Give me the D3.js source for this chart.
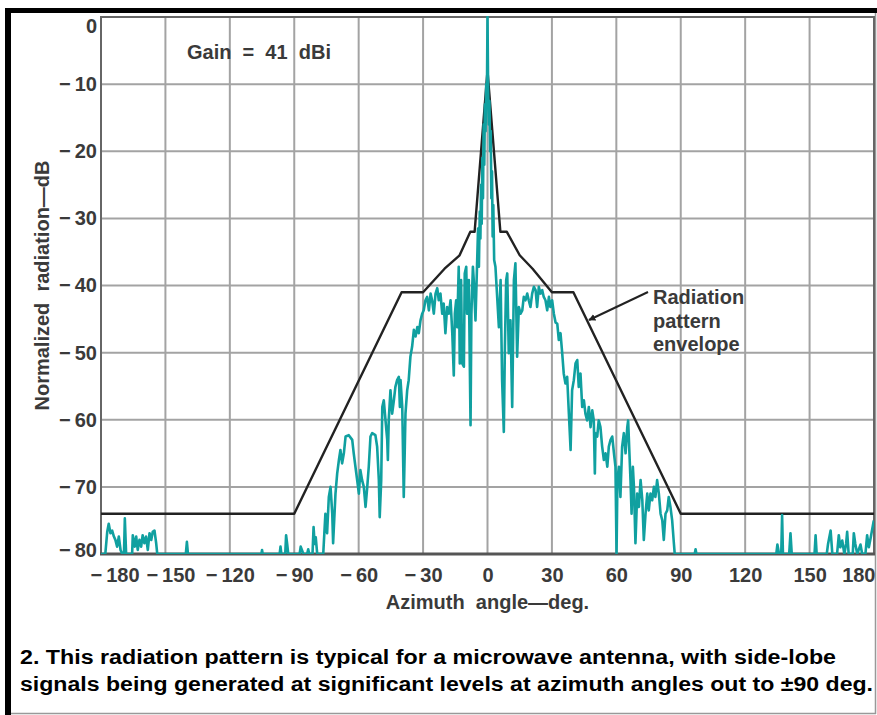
<!DOCTYPE html>
<html>
<head>
<meta charset="utf-8">
<script src="https://cdn.jsdelivr.net/npm/d3@7"></script>
<style>
  body { margin: 0; background: #fff; }
  svg { display: block; font-family: "Liberation Sans", Arial, sans-serif; }
</style>
</head>
<body>
<div class="canvas"></div>
<script>
// axis ticks
const angleTicks = [-180, -150, -120, -90, -60, -30, 0, 30, 60, 90, 120, 150, 180];
const levelTicks = [0, -10, -20, -30, -40, -50, -60, -70, -80];

// envelope (deg, dB)
const envAngles = [-180, -90, -40, -30, -20, -13, -8, -6, 0, 6, 9, 15, 21, 30, 40, 90, 180];
const envLevels = [-74, -74, -41, -41, -37.5, -35.5, -32, -32, -8, -32, -32, -35.5, -37.5, -41, -41, -74, -74];

const measured = [
    [-180, -80], [-178, -80], [-177.1, -76.7], [-176.4, -75.5], [-175.6, -76.9], [-174.8, -76.5],
    [-174, -77.4], [-173.3, -77.9], [-172.5, -78.9], [-171.7, -77.4], [-170.9, -79.4], [-170.1, -80],
    [-169.3, -80], [-168.9, -74.7], [-168.3, -80], [-165.5, -80], [-165.2, -77.2], [-164.3, -78.9],
    [-163.6, -77.4], [-162.9, -79.4], [-162.1, -77.9], [-161.3, -78.9], [-160.6, -77.2], [-159.8, -78.4],
    [-159, -77.4], [-158.2, -79.4], [-157.4, -76.9], [-156.6, -77.9], [-155.9, -76.7], [-155.1, -76.5],
    [-154.3, -78.4], [-153.8, -80], [-140.5, -80], [-140, -78.2], [-139.5, -80], [-105.3, -80],
    [-105, -79.4], [-104.7, -80], [-96.8, -80], [-96.4, -78.9], [-96, -80], [-94.2, -80],
    [-93.8, -77.2], [-93.3, -78.5], [-92.8, -80], [-87.5, -80], [-87, -78.9], [-86.3, -79.5],
    [-85.8, -80], [-84, -80], [-83.5, -79.3], [-83, -80], [-81.5, -80], [-81, -76],
    [-80.5, -78.5], [-80, -77.5], [-79.3, -80], [-76.5, -80], [-75.5, -74], [-74.7, -76.9],
    [-73.9, -71.5], [-73.1, -70], [-72.3, -74], [-71.9, -78.4], [-70.8, -71], [-70, -68],
    [-69.2, -66], [-68.5, -64.5], [-67.7, -66.5], [-66.9, -65], [-66.1, -62.5], [-64.6, -62.3],
    [-63, -63], [-62.3, -65], [-61.5, -67], [-60.7, -69], [-59.9, -71], [-59.2, -67.5],
    [-58.4, -69], [-57.6, -70], [-56.8, -73], [-56, -70], [-55.3, -67], [-54.5, -62.5],
    [-53.7, -62], [-52.2, -62.3], [-51.4, -64], [-50.6, -69], [-50.2, -74.5], [-49.5, -69],
    [-49, -58.1], [-48.3, -57.1], [-47.5, -60.1], [-46.7, -63], [-46.4, -66], [-46, -60.1],
    [-45.2, -55.6], [-44.4, -59.1], [-43.6, -57.1], [-42.9, -55.1], [-42.1, -54.1], [-41.3, -53.6],
    [-40.8, -58.1], [-40.5, -54.1], [-39.7, -58.1], [-39, -71.5], [-38.5, -64], [-38.2, -59.1],
    [-37.4, -55.6], [-36.7, -54.1], [-35.9, -50.6], [-35.1, -49.1], [-34.3, -46.6], [-33.5, -47.6],
    [-32.7, -46.2], [-32, -47.1], [-31.2, -45.2], [-30.4, -44.2], [-29.7, -43.7], [-28.9, -42.2],
    [-28.1, -41.7], [-27.3, -43.7], [-26.5, -41.2], [-25.8, -42.2], [-25, -44.2], [-24.2, -41.2],
    [-23.4, -40.4], [-22.7, -42.2], [-21.9, -41.2], [-21.1, -44.2], [-20.4, -42.7], [-19.6, -47.1],
    [-18.8, -43.2], [-18, -44.2], [-17.2, -42.2], [-16.4, -47.1], [-15.7, -53.4], [-15.2, -44.2],
    [-14.6, -42.2], [-14.1, -46.2], [-13.4, -37.2], [-12.9, -51.6], [-12.3, -39.2], [-11.8, -51.6],
    [-11, -52.1], [-10.6, -38.2], [-9.9, -37.2], [-9.5, -44.2], [-8.7, -39.2], [-7.9, -60.8],
    [-7.5, -44.2], [-6.8, -37.2], [-6.4, -39.2], [-5.6, -45.2], [-4.8, -36.2], [-4.4, -31.5],
    [-4, -37.2], [-3.6, -29], [-3.3, -33], [-3, -25], [-2.7, -30.8], [-2.4, -21],
    [-2.1, -27], [-1.8, -16], [-1.5, -22], [-1.2, -13], [-0.9, -17], [-0.6, -10],
    [-0.3, -13], [0, 0], [0.3, -11], [0.6, -16], [0.9, -12.5], [1.2, -20],
    [1.5, -17], [1.8, -27], [2.1, -23], [2.4, -32.7], [2.7, -28], [3.1, -36.2],
    [3.7, -37.2], [4.5, -41.7], [5.3, -46.2], [6.1, -39.2], [6.8, -54.1],
    [7.6, -61.8], [8.1, -49.1], [8.7, -39.2], [9.2, -38.2], [9.9, -50.1], [10.7, -45.2],
    [11.5, -58.1], [12.3, -39.2], [13, -36.7], [13.8, -50.6], [14.6, -43.2], [15.4, -44.2],
    [16.2, -43.7], [16.9, -41.7], [17.7, -42.2], [18.5, -41.2], [19.2, -42.2], [20, -43.2],
    [20.8, -41.2], [21.6, -40.2], [22.4, -40.7], [23.1, -43.2], [23.9, -40.2], [24.7, -41.2],
    [25.5, -40.7], [26.2, -41.7], [27, -42.2], [27.8, -43.7], [28.6, -41.7], [29.3, -43.2],
    [30.1, -42.2], [30.9, -44.2], [31.7, -45.5], [32.5, -45.7], [33.2, -48.1], [34, -47.1],
    [34.8, -50.1], [35.5, -53.1], [36.3, -54.6], [37.1, -53.6], [37.9, -59.1], [38.7, -64.5],
    [39.4, -55.6], [40.2, -54.1], [41, -51.6], [41.8, -51.1], [42.5, -55.1], [43.3, -53.1],
    [44.1, -58.1], [44.9, -57.1], [45.6, -59.1], [46.4, -60.1], [47.2, -58.1], [48, -61.1],
    [48.8, -58.6], [49.5, -60.1], [50, -68], [50.3, -62], [51.1, -62.5], [51.8, -60.1],
    [52.6, -61.1], [53.4, -64], [54.2, -66], [55, -65], [55.8, -67], [56.5, -64],
    [57.3, -63], [58.1, -62.5], [58.9, -65], [59.6, -67], [60.1, -80], [60.5, -69],
    [61.2, -67], [61.9, -71.5], [62.7, -64], [63.5, -62], [64.3, -65], [65.1, -61.1],
    [65.5, -60.1], [66.1, -65], [66.6, -69], [67.1, -74], [67.7, -67], [68.2, -70],
    [68.9, -78.4], [69.7, -71], [70.5, -73], [71.3, -69], [72.1, -72], [72.8, -77.9],
    [73.6, -74], [74.4, -71], [75.1, -73.5], [75.9, -71], [76.7, -72], [77.5, -70],
    [78.2, -71.5], [79, -69], [79.8, -71], [80.6, -74], [81.4, -75], [82.1, -77.9],
    [82.9, -74], [83.7, -73.5], [84.4, -71.5], [85.2, -73], [86, -75], [86.8, -78.4],
    [87.2, -80], [96.5, -80], [96.9, -79.3], [97.3, -80], [134.5, -80], [135, -78.6],
    [135.8, -80], [136.8, -80], [137.2, -74.2], [137.6, -80], [140.5, -80], [141.1, -76.9],
    [141.7, -80], [152.3, -80], [152.8, -77.2], [153.3, -80], [158, -80], [158.6, -78.5],
    [159.8, -76.5], [160.6, -80], [162.8, -80], [163.6, -77.2], [164.3, -79], [165.2, -78],
    [166.2, -80], [167, -78.5], [167.5, -76.7], [168.2, -80], [170.1, -80], [170.6, -76.9],
    [171.3, -78.5], [172.2, -80], [173.7, -78.6], [174.5, -80], [176, -80], [176.8, -77.2],
    [177.6, -79], [178.5, -77.5], [179.9, -75]
];

const annotationLines = ['Radiation', 'pattern', 'envelope'];
const captionLines = [
    '2. This radiation pattern is typical for a microwave antenna, with side-lobe',
    'signals being generated at significant levels at azimuth angles out to \u00b190 deg.'
];

const dimensions = { width: 877, height: 715 };
const plot = { left: 101, right: 874, top: 17, bottom: 554 };

const svg = d3.select('.canvas')
    .append('svg')
    .attr('width', dimensions.width)
    .attr('height', dimensions.height);

const x = d3.scaleLinear().domain([-180, 180]).range([plot.left, plot.right]);
const y = d3.scaleLinear().domain([0, -80]).range([plot.top, plot.bottom]);

const minus = v => v < 0 ? '\u2212\u2009' + Math.abs(v) : String(v);

// outer frame
svg.append('rect').attr('x', 5).attr('y', 8).attr('width', 6).attr('height', 707).attr('fill', '#000');
svg.append('rect').attr('x', 5).attr('y', 8).attr('width', 872).attr('height', 5).attr('fill', '#000');
svg.append('line').attr('x1', 875.5).attr('x2', 875.5).attr('y1', 13).attr('y2', 714)
    .attr('stroke', '#999').attr('stroke-width', 1.5);
svg.append('line').attr('x1', 11).attr('x2', 876).attr('y1', 713.5).attr('y2', 713.5)
    .attr('stroke', '#999').attr('stroke-width', 1.5);

// grid
const grid = svg.append('g');
grid.selectAll('.vgrid')
    .data(angleTicks)
    .enter().append('line')
    .attr('x1', d => x(d)).attr('x2', d => x(d))
    .attr('y1', plot.top).attr('y2', plot.bottom)
    .attr('stroke', '#a3a3a3').attr('stroke-width', 2);
grid.selectAll('.hgrid')
    .data(levelTicks)
    .enter().append('line')
    .attr('x1', plot.left).attr('x2', plot.right)
    .attr('y1', d => y(d)).attr('y2', d => y(d))
    .attr('stroke', '#a3a3a3').attr('stroke-width', 2);

// plot border
svg.append('rect')
    .attr('x', plot.left).attr('y', plot.top)
    .attr('width', plot.right - plot.left).attr('height', plot.bottom - plot.top)
    .attr('fill', 'none').attr('stroke', '#666').attr('stroke-width', 2);
svg.append('line')
    .attr('x1', plot.left - 1).attr('x2', plot.right + 1)
    .attr('y1', plot.bottom).attr('y2', plot.bottom)
    .attr('stroke', '#555').attr('stroke-width', 3);

// axes
const xAxis = svg.append('g')
    .attr('transform', `translate(0, ${plot.bottom})`)
    .call(d3.axisBottom(x).tickValues(angleTicks).tickSize(0).tickPadding(14).tickFormat(minus));
const yAxis = svg.append('g')
    .attr('transform', `translate(${plot.left}, 0)`)
    .call(d3.axisLeft(y).tickValues(levelTicks).tickSize(0).tickPadding(4).tickFormat(minus));
[xAxis, yAxis].forEach(a => {
    a.select('.domain').remove();
    a.selectAll('text')
        .attr('font-family', '"Liberation Sans", Arial, sans-serif')
        .attr('font-size', 20)
        .attr('font-weight', 'bold')
        .attr('fill', '#3a3a3a');
});
xAxis.selectAll('.tick').filter(d => d === 180).select('text')
    .attr('text-anchor', 'end').attr('x', 1);
xAxis.selectAll('.tick').filter(d => d === -180).select('text')
    .attr('text-anchor', 'start').attr('x', -11);
xAxis.selectAll('.tick').filter(d => d === -150).select('text').attr('x', 5);
yAxis.selectAll('.tick').filter(d => d === 0).select('text').attr('dy', '0.78em');
yAxis.selectAll('.tick').filter(d => d === -80).select('text').attr('dy', '0.1em');

// envelope
const envData = envAngles.map((a, i) => [a, envLevels[i]]);
const line = d3.line().x(d => x(d[0])).y(d => y(d[1]));

svg.append('defs').append('clipPath').attr('id', 'clip')
    .append('rect')
    .attr('x', plot.left).attr('y', plot.top - 1)
    .attr('width', plot.right - plot.left).attr('height', plot.bottom - plot.top + 1);

svg.append('path')
    .attr('d', line(envData))
    .attr('fill', 'none')
    .attr('stroke', '#222')
    .attr('stroke-width', 2.4)
    .attr('stroke-linejoin', 'round');

svg.append('path')
    .attr('clip-path', 'url(#clip)')
    .attr('d', line(measured))
    .attr('fill', 'none')
    .attr('stroke', '#10a0a0')
    .attr('stroke-width', 2.6)
    .attr('stroke-linejoin', 'round');

// labels
const textStyle = sel => sel
    .attr('font-size', 20)
    .attr('font-weight', 'bold')
    .attr('fill', '#3a3a3a');

svg.append('text')
    .attr('x', 187).attr('y', 59)
    .attr('xml:space', 'preserve')
    .text('Gain  =  41  dBi')
    .call(textStyle);

svg.append('text')
    .attr('x', x(0)).attr('y', 609)
    .attr('text-anchor', 'middle')
    .attr('xml:space', 'preserve')
    .text('Azimuth  angle\u2014deg.')
    .call(textStyle);

svg.append('text')
    .attr('transform', `translate(49, ${(plot.top + plot.bottom) / 2}) rotate(-90)`)
    .attr('text-anchor', 'middle')
    .attr('xml:space', 'preserve')
    .text('Normalized  radiation\u2014dB')
    .call(textStyle);

const note = svg.append('text').attr('x', 653).attr('y', 304).call(textStyle);
note.selectAll('tspan')
    .data(annotationLines)
    .enter().append('tspan')
    .attr('x', 653)
    .attr('dy', (d, i) => i === 0 ? 0 : 23.5)
    .text(d => d);

// arrow to envelope
svg.append('defs').append('marker')
    .attr('id', 'arrow')
    .attr('viewBox', '0 0 10 10')
    .attr('refX', 9).attr('refY', 5)
    .attr('markerWidth', 7).attr('markerHeight', 7)
    .attr('markerUnits', 'userSpaceOnUse')
    .attr('orient', 'auto')
    .append('path')
    .attr('d', 'M0,0 L10,5 L0,10 Z')
    .attr('fill', '#222');
svg.append('line')
    .attr('x1', 648).attr('y1', 292)
    .attr('x2', 589).attr('y2', 320)
    .attr('stroke', '#222').attr('stroke-width', 2)
    .attr('marker-end', 'url(#arrow)');

// caption
svg.selectAll('.caption')
    .data(captionLines)
    .enter().append('text')
    .attr('class', 'caption')
    .attr('x', 20)
    .attr('y', (d, i) => 664 + i * 27)
    .attr('font-size', 20)
    .attr('font-weight', 'bold')
    .attr('fill', '#000')
    .attr('textLength', (d, i) => i === 0 ? 816 : 853)
    .attr('lengthAdjust', 'spacingAndGlyphs')
    .text(d => d);
</script>
</body>
</html>
